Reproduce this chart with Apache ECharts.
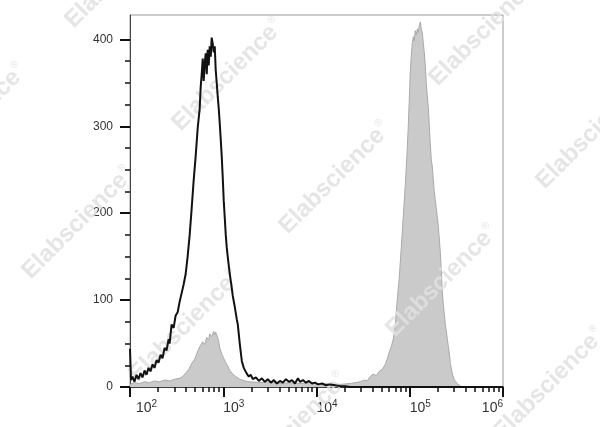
<!DOCTYPE html>
<html><head><meta charset="utf-8">
<script src="https://cdn.jsdelivr.net/npm/echarts@6/dist/echarts.min.js"></script>
<style>html,body{margin:0;padding:0;background:#fff}#c{width:600px;height:427px}</style>
</head><body><div id="c"></div>
<script>
// log10(fluorescence) positions and event counts
const blackX = [2.000,2.011,2.027,2.048,2.070,2.091,2.113,2.134,2.156,2.177,2.199,2.220,2.242,2.263,2.285,2.306,2.328,2.349,2.371,2.392,2.414,2.425,2.446,2.468,2.489,2.511,2.532,2.554,2.575,2.597,2.618,2.640,2.661,2.683,2.704,2.726,2.747,2.758,2.769,2.780,2.790,2.801,2.812,2.823,2.833,2.844,2.855,2.866,2.876,2.887,2.898,2.909,2.919,2.930,2.941,2.952,2.962,2.973,2.984,2.995,3.005,3.016,3.027,3.038,3.048,3.059,3.070,3.086,3.102,3.124,3.145,3.156,3.177,3.199,3.220,3.249,3.274,3.296,3.317,3.350,3.382,3.414,3.446,3.478,3.511,3.543,3.575,3.608,3.640,3.672,3.704,3.737,3.769,3.801,3.823,3.855,3.887,3.919,3.952,3.984,4.016,4.059,4.102,4.145,4.199,4.253,4.306,4.360,6.000];
const blackY = [44,8,12,6,14,9,16,11,19,14,22,18,26,22,31,28,37,33,45,42,55,50,72,68,82,86,98,108,118,130,150,175,205,238,265,298,320,345,360,378,352,372,384,360,388,370,392,380,402,395,385,392,365,350,334,320,304,285,265,240,215,195,175,160,150,140,130,118,105,92,78,72,50,30,22,16,12,14,9,11,7,10,6,9,5,8,4,7,5,9,6,8,4,10,6,8,5,7,4,5,3,4,2,3,2,1,1,0,0];
const grayX = [2.000,2.048,2.102,2.156,2.210,2.263,2.317,2.371,2.425,2.479,2.532,2.565,2.597,2.629,2.661,2.694,2.715,2.737,2.758,2.780,2.801,2.823,2.844,2.855,2.876,2.898,2.909,2.919,2.941,2.952,2.962,2.984,3.005,3.027,3.048,3.070,3.102,3.134,3.177,3.231,3.285,3.392,3.500,3.608,3.715,3.823,3.930,4.038,4.145,4.253,4.360,4.414,4.468,4.511,4.543,4.575,4.608,4.640,4.672,4.704,4.737,4.758,4.780,4.801,4.823,4.844,4.866,4.887,4.909,4.930,4.952,4.973,4.984,4.995,5.005,5.016,5.027,5.038,5.048,5.059,5.070,5.081,5.091,5.102,5.113,5.124,5.134,5.145,5.156,5.167,5.177,5.188,5.199,5.210,5.220,5.231,5.242,5.263,5.285,5.296,5.306,5.328,5.349,5.360,5.382,5.403,5.425,5.435,5.457,5.478,5.511,5.543,5.597,6.000];
const grayY = [3,5,4,6,5,7,6,8,7,9,10,12,16,20,27,32,38,44,48,52,49,57,54,61,58,64,60,63,57,52,45,38,33,28,24,19,15,12,9,7,6,5,6,4,5,4,5,3,4,3,4,5,6,8,7,12,15,13,18,20,26,32,40,46,55,70,100,125,160,195,232,273,300,330,361,380,395,403,398,410,405,412,408,415,420,412,408,396,385,369,350,335,322,300,280,262,253,225,205,195,185,155,110,95,72,55,38,27,15,8,4,1,0,0];

const xMajorTicks = [2, 3, 4, 5, 6];
const xTickExponents = ['2', '3', '4', '5', '6'];
const xMinorMultipliers = [2, 3, 4, 5, 6, 7, 8, 9];
const yMajorTicks = [0, 100, 200, 300, 400];
const yMinorTicks = [25, 50, 75, 125, 150, 175, 225, 250, 275, 325, 350, 375];
const watermarkText = 'Elabscience';

const xMinorTicks = [];
xMajorTicks.slice(0, -1).forEach(function (n) {
  xMinorMultipliers.forEach(function (m) { xMinorTicks.push(n + Math.log10(m)); });
});

function zip(a, b) { return a.map(function (v, i) { return [v, b[i]]; }); }

// watermark lattice
const wmOrigin = [228, 75], wmV1 = [107, 103], wmV2 = [-150, 148];
const wmSteps = [[-1,0],[0,0],[1,0],[2,0],[3,0],[-1,1],[0,1],[1,1],[2,1],[1,-1],[2,-1]];
const wmElements = wmSteps.map(function (s) {
  return {
    type: 'text', z: 3, silent: true,
    x: wmOrigin[0] + s[0] * wmV1[0] + s[1] * wmV2[0],
    y: wmOrigin[1] + s[0] * wmV1[1] + s[1] * wmV2[1],
    rotation: Math.PI / 4,
    style: {
      text: '{a|' + watermarkText + '}{r|®}',
      align: 'center', verticalAlign: 'middle',
      rich: {
        a: { fontFamily: 'Liberation Sans', fontWeight: 'bold', fontSize: 24, fill: 'rgba(224,224,224,0.85)' },
        r: { fontFamily: 'Liberation Sans', fontSize: 10, fill: 'rgba(224,224,224,0.85)', padding: [0, 0, 16, 1] }
      }
    }
  };
});

const chart = echarts.init(document.getElementById('c'), null, { renderer: 'canvas' });
const labelRich = {
  b: { fontFamily: 'Liberation Sans', fontSize: 14, color: '#333' },
  f: { fontFamily: 'Liberation Sans', fontSize: 14, color: '#333', padding: [0, 0, 0, 6] },
  s: { fontFamily: 'Liberation Sans', fontSize: 10, color: '#333', padding: [0, 0, 9, 0] }
};
chart.setOption({
  animation: false,
  backgroundColor: '#fff',
  grid: { left: 130, right: 97, top: 15, bottom: 40, show: true, borderColor: '#999', borderWidth: 1, containLabel: false },
  xAxis: [
    {
      type: 'value', min: 2, max: 6, interval: 1, position: 'bottom',
      axisLine: { show: true, onZero: false, lineStyle: { color: '#111', width: 1.5 } },
      axisTick: { show: true, length: 10, lineStyle: { color: '#111', width: 2 } },
      splitLine: { show: false },
      axisLabel: {
        margin: 12, align: 'left', alignMaxLabel: 'right',
        formatter: function (v) {
          const i = xMajorTicks.indexOf(Math.round(v));
          return (i === 0 ? '{f|10}' : '{b|10}') + '{s|' + xTickExponents[i] + '}';
        },
        rich: labelRich
      }
    },
    {
      type: 'value', min: 2, max: 6, position: 'bottom',
      axisLine: { show: false, onZero: false },
      axisTick: { show: true, length: 5, customValues: xMinorTicks, lineStyle: { color: '#111', width: 1.5 } },
      axisLabel: { show: false },
      splitLine: { show: false }
    }
  ],
  yAxis: [
    {
      type: 'value', min: 0, max: 428, position: 'left',
      axisLine: { show: true, onZero: false, lineStyle: { color: '#444', width: 1 } },
      axisTick: { show: true, length: 10, customValues: yMajorTicks, lineStyle: { color: '#111', width: 2 } },
      axisLabel: { customValues: yMajorTicks, margin: 17, fontFamily: 'Liberation Sans', fontSize: 12, color: '#333' },
      splitLine: { show: false }
    },
    {
      type: 'value', min: 0, max: 428, position: 'left',
      axisLine: { show: false, onZero: false },
      axisTick: { show: true, length: 5, customValues: yMinorTicks, lineStyle: { color: '#111', width: 1.5 } },
      axisLabel: { show: false },
      splitLine: { show: false }
    }
  ],
  graphic: { elements: wmElements },
  series: [
    {
      name: 'stained', type: 'line', xAxisIndex: 0, yAxisIndex: 0, z: 1,
      data: zip(grayX, grayY), symbol: 'none', silent: true,
      lineStyle: { color: '#a9a9a9', width: 1 },
      areaStyle: { color: '#cacaca', opacity: 1 }
    },
    {
      name: 'control', type: 'line', xAxisIndex: 0, yAxisIndex: 0, z: 5,
      data: zip(blackX, blackY), symbol: 'none', silent: true,
      lineStyle: { color: '#111', width: 2 }
    }
  ]
});
</script></body></html>
